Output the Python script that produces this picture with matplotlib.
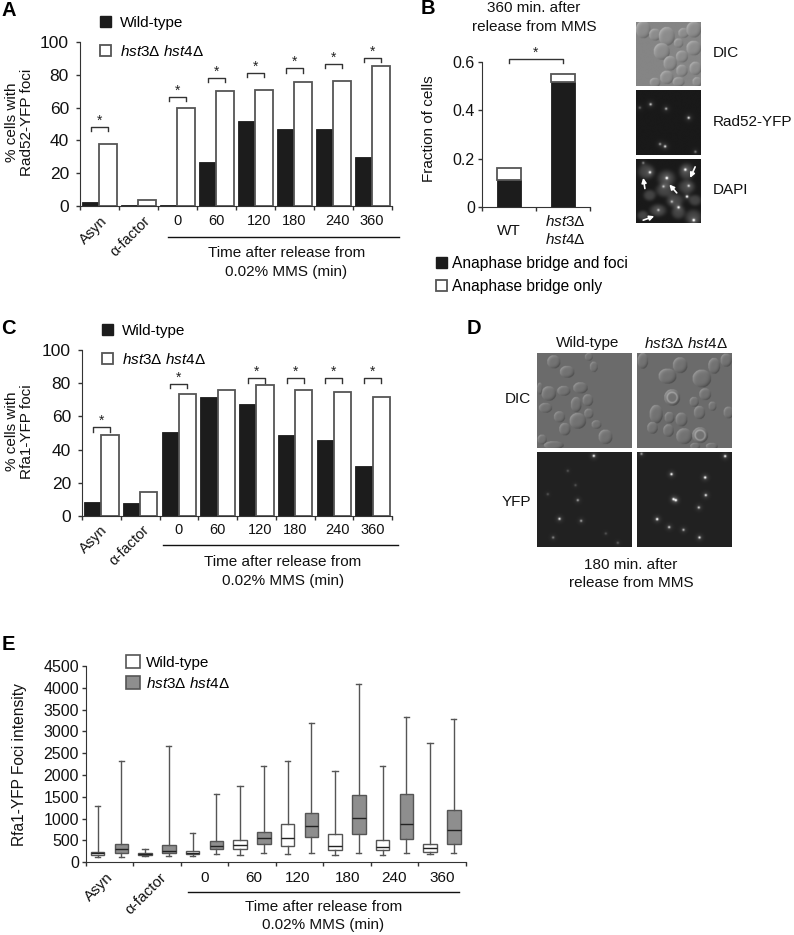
import numpy as np
import matplotlib
matplotlib.use('Agg')
import matplotlib.pyplot as plt
from matplotlib.patches import Patch

plt.rcParams['font.family'] = ['Liberation Sans', 'DejaVu Sans']
plt.rcParams['mathtext.fontset'] = 'custom'
plt.rcParams['mathtext.rm'] = 'Liberation Sans'
plt.rcParams['mathtext.it'] = 'Liberation Sans:italic'
plt.rcParams['mathtext.default'] = 'regular'

W, H = 794, 935
HST = r'$\mathit{hst3}\Delta\ \mathit{hst4}\Delta$'
HST3 = r'$\mathit{hst3}\Delta$'
HST4 = r'$\mathit{hst4}\Delta$'
DARK = '#1c1c1c'
EDGE = '#555555'
AXC = '#333333'

groups = ['Asyn', 'α-factor', '0', '60', '120', '180', '240', '360']

# panel A
rad52_wt = [2, 0.3, 0.3, 27, 52, 47, 47, 30]
rad52_mut = [37.5, 3.7, 60, 70, 71, 75.5, 76.5, 85.5]
rad52_brackets = [48.4, None, 66.5, 78, 81, 84, 86.5, 90.4]
rad52_label_x = [0.52, 1.62, 2.5, 3.5, 4.6, 5.5, 6.6, 7.5]

# panel C
rfa1_wt = [8, 7.5, 50.5, 71.5, 67.5, 49, 46, 30]
rfa1_mut = [48.5, 14.5, 73.5, 76, 79, 76, 75, 71.5]
rfa1_brackets = [53.4, None, 79.6, None, 83, 83, 83, 83]
rfa1_label_x = [0.48, 1.55, 2.5, 3.5, 4.6, 5.5, 6.6, 7.5]

# panel B
frac_names = ['WT', HST3 + '\n' + HST4]
frac_foci = [0.113, 0.515]
frac_total = [0.163, 0.548]

# panel E, whisker low, q1, median, q3, whisker high
wt_low = [130, 145, 140, 160, 190, 160, 160, 190]
wt_q1 = [175, 170, 185, 300, 380, 275, 275, 245]
wt_med = [215, 190, 215, 395, 550, 380, 345, 330]
wt_q3 = [235, 220, 250, 505, 885, 655, 510, 410]
wt_high = [1290, 310, 665, 1750, 2315, 2085, 2200, 2725]
mut_low = [130, 140, 190, 205, 205, 220, 205, 205]
mut_q1 = [215, 205, 300, 420, 590, 640, 525, 420]
mut_med = [300, 250, 365, 550, 825, 1010, 870, 735]
mut_q3 = [410, 390, 480, 690, 1125, 1535, 1565, 1205]
mut_high = [2315, 2665, 1565, 2205, 3190, 4095, 3325, 3275]
intensity_label_x = [0.43, 1.55, 2.5, 3.54, 4.46, 5.52, 6.5, 7.5]

# micrograph content, cx cy rx ry in crop pixels of a 285 or 193 wide frame
dic_wt = [(50,26,20,20),(90,56,22,18),(170,41,12,16),(155,11,12,12),(130,104,22,17),(80,113,20,15),
          (35,121,22,22),(8,106,8,18),(152,141,16,18),(117,154,16,23),(25,164,20,15),(67,191,17,17),
          (155,181,14,15),(122,203,25,24),(83,228,17,19),(178,214,15,13),(205,251,21,22),(15,259,14,15),(50,276,30,12)]
dic_mut = [(17,23,16,24),(129,36,22,24),(91,69,27,23),(194,76,28,27),(231,38,18,24),(267,21,17,20),
           (204,123,18,18),(105,133,24,25),(171,146,14,15),(226,159,12,14),(187,178,17,20),(57,183,20,28),
           (97,193,15,17),(133,199,18,21),(274,178,15,18),(46,224,16,18),(94,232,16,19),(141,249,24,24),
           (189,246,24,24),(174,279,15,10),(224,279,18,10)]
dic_b = [(21,25,22,26),(56,40,18,18),(91,45,24,28),(141,35,16,15),(171,25,22,24),(126,65,14,14),
         (171,80,22,22),(76,90,24,25),(136,105,18,18),(101,125,20,22),(136,147,17,18),(176,140,18,20),
         (91,167,20,20),(56,182,16,14),(181,180,14,14),(126,180,18,14)]
yfp_wt = [(170,11,.9),(67,200,.8),(122,144,.5),(132,206,.5),(48,256,.4),(115,99,.2),(92,56,.2),(32,126,.2),(206,244,.2),(242,272,.25)]
yfp_mut = [(264,12,.9),(13,5,.5),(103,66,.9),(204,76,1),(206,129,.8),(109,141,.9),(116,144,1),(185,166,.7),(60,201,1),(96,225,.7),(139,233,.6),(187,256,.8)]
rad_spots = [(43,42,.7),(89,55,.6),(156,82,.8),(86,167,.8),(71,160,.5),(176,183,.4),(11,52,.3)]
dapi_spots = [(41,42,.8),(91,59,1),(146,34,.9),(151,114,1),(126,146,.8),(171,184,1),(106,129,.5),(66,154,.5),(156,82,.6),(21,14,.4),(81,84,.5)]
dapi_cells = [(30,40,24,22),(90,60,26,24),(150,40,22,24),(85,95,26,20),(150,85,24,20),(40,110,18,16),
              (115,125,24,20),(65,155,24,18),(125,160,20,20),(170,175,24,22),(20,170,16,14),(175,125,18,16)]
dapi_arrows = [((26,89),(21,57)), ((121,102),(99,77)), ((176,24),(161,57)), ((21,184),(54,172))]


def px_axes(x0, y0, x1, y1):
    return fig.add_axes([x0 / W, 1 - y1 / H, (x1 - x0) / W, (y1 - y0) / H])


def dic_image(cells, size, base, ring=()):
    yy, xx = np.mgrid[0:size, 0:size]
    img = np.full((size, size), base)
    for i, (cx, cy, rx, ry) in enumerate(cells):
        u = (xx - cx) / rx
        v = (yy - cy) / ry
        r2 = u ** 2 + v ** 2
        inside = r2 < 1
        shade = base + 0.03 + 0.13 * (-u - v) * r2 ** 1.2
        if i in ring:
            shade = shade + 0.18 * np.exp(-((np.sqrt(r2) - 0.62) / 0.1) ** 2)
        img[inside] = shade[inside]
    return img


def spot_image(spots, size, base=0.12, blobs=(), blob_level=0.0):
    yy, xx = np.mgrid[0:size, 0:size]
    img = np.full((size, size), base)
    for cx, cy, rx, ry in blobs:
        r2 = ((xx - cx) / rx) ** 2 + ((yy - cy) / ry) ** 2
        img = img + blob_level * np.exp(-r2 ** 2)
    for cx, cy, a in spots:
        img = img + a * np.exp(-((xx - cx) ** 2 + (yy - cy) ** 2) / 12.0)
        img = img + 0.12 * a * np.exp(-((xx - cx) ** 2 + (yy - cy) ** 2) / 120.0)
    return img


def show_image(box, img):
    ax = px_axes(*box)
    ax.imshow(img, cmap='gray', vmin=0, vmax=1, aspect='auto', interpolation='bilinear')
    ax.axis('off')
    return ax


def style(ax):
    ax.spines['top'].set_visible(False)
    ax.spines['right'].set_visible(False)
    ax.spines['left'].set_color(AXC)
    ax.spines['bottom'].set_color(AXC)
    ax.tick_params(which='major', length=3, width=1, color=AXC)


def set_groups(ax, label_x, pad, size):
    ax.set_xlim(0, len(groups))
    ax.set_xticks(range(len(groups) + 1))
    ax.set_xticklabels([])
    ax.set_xticks(label_x, groups, minor=True)
    ax.tick_params(axis='x', which='minor', length=0, pad=pad, labelsize=size, labelcolor='#111111')
    for lab in ax.get_xticklabels(minor=True)[:2]:
        lab.set_rotation(45)
        lab.set_ha('right')
        lab.set_rotation_mode('anchor')


def bar_panel(box, wt, mut, brackets, label_x, ylabel, legend_xy, pad):
    ax = px_axes(*box)
    x = np.arange(len(groups)) + 0.5
    w = 0.445
    ax.bar(x - w / 2, wt, w, color=DARK, edgecolor=DARK, linewidth=0.6, label='Wild-type')
    ax.bar(x + w / 2, mut, w, color='white', edgecolor=EDGE, linewidth=1.3, label=HST)
    ax.set_ylim(0, 100)
    ax.set_yticks(range(0, 101, 20))
    ax.tick_params(axis='y', labelsize=12.5, pad=5, labelcolor='#111111')
    set_groups(ax, label_x, pad, 10.5)
    style(ax)
    ax.set_ylabel(ylabel, fontsize=11, linespacing=1.05, color='#111111')
    ax.yaxis.set_label_coords((34 - box[0]) / (box[2] - box[0]), 0.51)
    for xc, b in zip(x, brackets):
        if b is None:
            continue
        ax.plot([xc - w / 2, xc - w / 2, xc + w / 2, xc + w / 2], [b - 2.5, b, b, b - 2.5],
                color=AXC, lw=1, clip_on=False)
        ax.text(xc, b - 0.5, '*', ha='center', va='bottom', fontsize=10, color='#222222')
    handles = [Patch(facecolor=DARK, edgecolor=DARK), Patch(facecolor='white', edgecolor=EDGE, linewidth=1.3)]
    fig.legend(handles, ['Wild-type', HST], loc='upper left', bbox_to_anchor=(legend_xy[0] / W, 1 - legend_xy[1] / H),
               frameon=False, fontsize=11, borderpad=0, borderaxespad=0, handlelength=0.7, handleheight=0.7,
               handletextpad=0.6, labelspacing=0.92)
    return ax


def note(x, y, s, **kw):
    kw.setdefault('fontsize', 11)
    kw.setdefault('ha', 'center')
    kw.setdefault('va', 'center')
    kw.setdefault('color', '#111111')
    fig.text(x / W, 1 - y / H, s, **kw)


def rule(x0, x1, y):
    fig.add_artist(plt.Line2D([x0 / W, x1 / W], [1 - y / H, 1 - y / H], color='#111111', lw=1))


fig = plt.figure(figsize=(W / 100, H / 100), dpi=100)

# A
bar_panel((80, 42.3, 391.7, 205.7), rad52_wt, rad52_mut, rad52_brackets, rad52_label_x,
          '% cells with\nRad52-YFP foci', (100, 15.5), 5.8)
rule(167.7, 399, 237.3)
note(286.7, 253, 'Time after release from')
note(286, 272, '0.02% MMS (min)')

# C
bar_panel((82, 350.3, 392, 515.7), rfa1_wt, rfa1_mut, rfa1_brackets, rfa1_label_x,
          '% cells with\nRfa1-YFP foci', (102, 323.5), 5.2)
rule(162.7, 397.7, 545)
note(282.7, 561.7, 'Time after release from')
note(282.7, 580.7, '0.02% MMS (min)')

# B
ax_b = px_axes(481.7, 61.7, 590, 207)
xb = np.arange(2) + 0.5
only = [t - f for t, f in zip(frac_total, frac_foci)]
ax_b.bar(xb, frac_foci, 0.45, color=DARK, edgecolor=DARK, linewidth=0.6)
ax_b.bar(xb, only, 0.45, bottom=frac_foci, color='white', edgecolor=EDGE, linewidth=1.3)
ax_b.set_xlim(0, 2)
ax_b.set_ylim(0, 0.6)
ax_b.set_yticks([0, 0.2, 0.4, 0.6], ['0', '0.2', '0.4', '0.6'])
ax_b.set_xticks([0, 1, 2])
ax_b.set_xticklabels([])
ax_b.set_xticks([0.5, 1.55], frac_names, minor=True)
ax_b.tick_params(axis='x', which='minor', length=0, pad=17, labelsize=11, labelcolor='#111111')
for lab in ax_b.get_xticklabels(minor=True):
    lab.set_va('center')
ax_b.tick_params(axis='y', labelsize=11.5, pad=2, labelcolor='#111111')
style(ax_b)
ax_b.set_ylabel('Fraction of cells', fontsize=11, color='#111111')
ax_b.yaxis.set_label_coords((436 - 481.7) / 108.3, 0.537)
ax_b.plot([0.5, 0.5, 1.5, 1.5], [0.595, 0.61, 0.61, 0.595], color=AXC, lw=1, clip_on=False)
ax_b.text(1.0, 0.607, '*', ha='center', va='bottom', fontsize=10, color='#222222')
fig.legend([Patch(facecolor=DARK, edgecolor=DARK), Patch(facecolor='white', edgecolor=EDGE, linewidth=1.3)],
           ['Anaphase bridge and foci', 'Anaphase bridge only'], loc='upper left',
           bbox_to_anchor=(435.7 / W, 1 - 256 / H), frameon=False, fontsize=11.2, borderpad=0, borderaxespad=0,
           handlelength=0.72, handleheight=0.72, handletextpad=0.35, labelspacing=0.5)
note(534, 8, '360 min. after')
note(534, 26.7, 'release from MMS')

# B micrographs
show_image((636, 21.7, 700.7, 86), dic_image(dic_b, 193, 0.52))
show_image((636, 90, 700.7, 155), spot_image(rad_spots, 193, base=0.1))
ax_dapi = show_image((636, 158.7, 700.7, 223), spot_image(dapi_spots, 193, base=0.1, blobs=dapi_cells, blob_level=0.17))
for (start, end) in dapi_arrows:
    ax_dapi.annotate('', xy=end, xytext=start, arrowprops=dict(arrowstyle='-|>', color='white', lw=1.2, mutation_scale=7, shrinkA=0, shrinkB=0))
note(712.7, 53, 'DIC', ha='left')
note(712.7, 121.7, 'Rad52-YFP', ha='left')
note(712.7, 190, 'DAPI', ha='left')

# D micrographs
show_image((536.7, 353, 631.7, 448), dic_image(dic_wt, 285, 0.42))
show_image((637, 353, 732, 448), dic_image(dic_mut, 285, 0.42, ring=(7, 18)))
show_image((536.7, 452, 631.7, 547), spot_image(yfp_wt, 285, base=0.13))
show_image((637, 452, 732, 547), spot_image(yfp_mut, 285, base=0.13))
note(588, 343, 'Wild-type')
note(685.7, 343, HST)
note(531, 399, 'DIC', ha='right')
note(531, 502, 'YFP', ha='right')
note(630.7, 565, '180 min. after')
note(631.7, 583, 'release from MMS')

# E
ax_e = px_axes(85.7, 666, 465.7, 862.3)
xe = np.arange(len(groups)) + 0.5
wt_stats = [dict(whislo=a, q1=b, med=c, q3=d, whishi=e) for a, b, c, d, e in zip(wt_low, wt_q1, wt_med, wt_q3, wt_high)]
mut_stats = [dict(whislo=a, q1=b, med=c, q3=d, whishi=e) for a, b, c, d, e in zip(mut_low, mut_q1, mut_med, mut_q3, mut_high)]
for stats, pos, face in [(wt_stats, xe - 0.25, 'white'), (mut_stats, xe + 0.25, '#8e8e8e')]:
    ax_e.bxp(stats, positions=pos, widths=0.285, showfliers=False, patch_artist=True, manage_ticks=False,
             boxprops=dict(facecolor=face, edgecolor=EDGE, linewidth=1),
             medianprops=dict(color='#222222', linewidth=1),
             whiskerprops=dict(color=EDGE, linewidth=1),
             capprops=dict(color=EDGE, linewidth=1), capwidths=0.11)
ax_e.set_ylim(0, 4500)
ax_e.set_yticks(range(0, 4501, 500))
ax_e.tick_params(axis='y', labelsize=11.5, pad=2, labelcolor='#111111')
set_groups(ax_e, intensity_label_x, 6, 11)
style(ax_e)
ax_e.set_ylabel('Rfa1-YFP Foci intensity', fontsize=11.2, color='#111111')
ax_e.yaxis.set_label_coords((27 - 85.7) / 380, 0.5)
fig.legend([Patch(facecolor='white', edgecolor=EDGE, linewidth=1.2), Patch(facecolor='#8e8e8e', edgecolor=EDGE, linewidth=1.2)],
           ['Wild-type', HST], loc='upper left', bbox_to_anchor=(125.7 / W, 1 - 655 / H), frameon=False, fontsize=11,
           borderpad=0, borderaxespad=0, handlelength=0.95, handleheight=0.95, handletextpad=0.35, labelspacing=0.4)
rule(187.7, 459, 892.3)
note(323.3, 906.7, 'Time after release from')
note(323.3, 925, '0.02% MMS (min)')

# panel letters
for letter, x, y in [('A', 1, 10), ('B', 421, 9), ('C', 1, 329), ('D', 467, 329), ('E', 2, 645)]:
    note(x, y, letter, ha='left', fontsize=14.5, fontweight='bold', color='black')

fig.savefig('out.png', dpi=100, facecolor='white')
